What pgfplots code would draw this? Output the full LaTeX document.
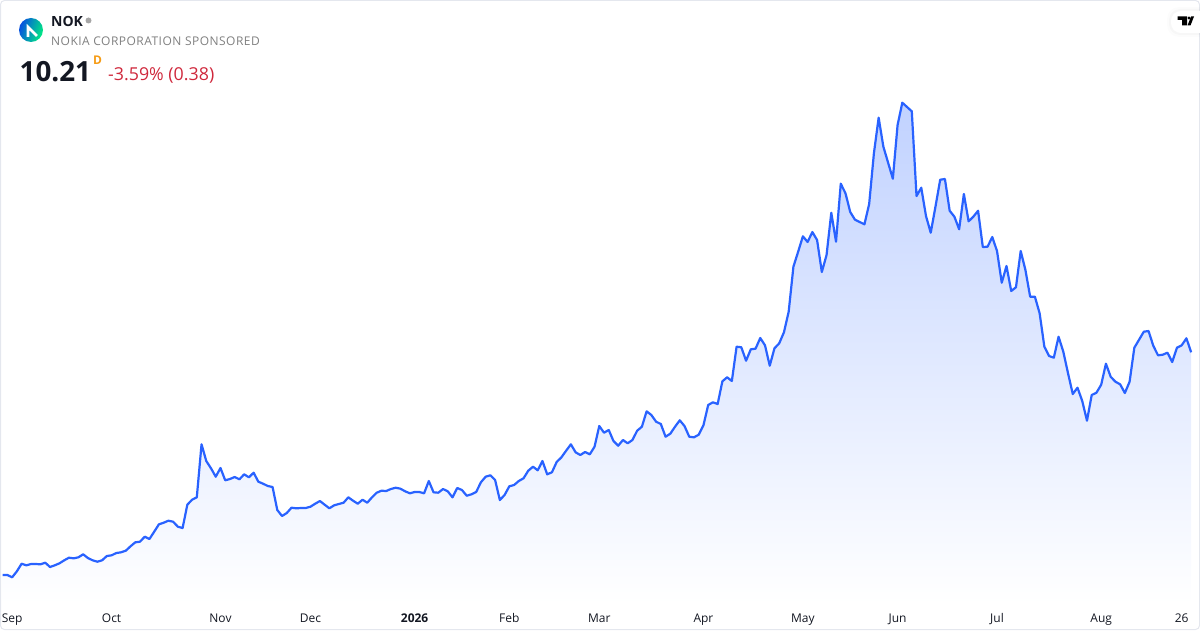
\documentclass[border=0pt]{standalone}
\usepackage{pgfplots}
\usepackage{pgfplotstable}
\usepackage{fontspec}
\setmainfont{Open Sans}
\pgfplotsset{compat=1.18}
\definecolor{tvblue}{RGB}{41,98,255}
\definecolor{topfill}{RGB}{193,210,255}
\definecolor{framec}{RGB}{228,231,238}
\definecolor{ticktxt}{RGB}{19,23,34}
\definecolor{logoa}{RGB}{8,80,225}
\definecolor{logob}{RGB}{0,235,130}
\definecolor{ordot}{RGB}{245,155,20}
\pgfplotstableread{
py
575 
575 
577.3 
571.3 
563.7 
565.3 
564 
564 
564.3 
562.7
567 
565.3 
563.3 
560.3 
557.7 
558.3 
557.3 
554.3 
558 
560.3
561.7 
560.3 
556 
555.3 
553 
552.3 
550.7 
546.3 
542.3 
541.7
536.7 
539 
531.7 
524.3 
522.7 
520.7 
521.7 
526.7 
528 
504.7
499.7 
497.3 
444.3 
461 
468.3 
476.7 
468 
480.3 
479 
477
479.3 
474.3 
477.3 
472.7 
481.7 
483.7 
486 
487 
510 
516
513 
507.7 
508.3
508 
508 
506.7 
503.7 
501 
504.7 
508.3 
505.3 
504 
502.7 
497.3 
500.7 
503.7 
499.7 
502.7 
497.3 
492.7 
490.7 
491 
489 
487.7 
488.7 
491.3 
493.3 
492 
492 
493.3 
481 
492.3 
492.7 
489 
491.3 
497.3 
488 
490 
495.7 
494.3 
492 
482.3 
476.7 
475.3 
480 
500 
495 
486.3 
485 
481 
478.3 
470.7 
466.7 
470.3 
461 
474.3 
472.3 
462 
457.3 
450.7 
444.3 
452.3 
455 
452 
454.3 
446.7 
426
432.7 
430 
441 
445.7 
440 
443.3 
440 
430.7 
426.7 
411.3 
415 
421.7 
424 
436.7 
433.7 
426.7 
420.3 
426 
436.7 
437.3 
434.7 
425.3 
405 
402.3 
404 
381.3 
377.3 
381 
346.7 
347.3 
360.7 
349.3 
348.7 
338 
345.3 
365.7 
348.3 
343.3 
332.3 
311.7 
266.7 
251.7 
236.3 
242 
232 
240 
272 
255 
212.7 
241.7
183.7 
193.3 
212 
219.7 
222 
224.3 
204 
153.3 
117.7 
146.7 
162.7 
178.7 
125 
102.7 
107 
111.3 
196 
187.7 
216 
232.7 
206.7 
179.7 
179 
210.7 
216.7 
229.3 
194 
221.3 
216.7 
210.7 
247 
246.7 
237 
251 
282.7 
266 
291 
287.3
251 
270 
296.7 
296.7 
313.3 
346.7 
356 
357.7 
336.7 
351.7 
373.3 
394 
387.7 
401 
420.7 
395 
392.7 
384.7 
363.7 
376.7 
381.7 
384.3 
393 
381.7 
347.7 
339.7 
331.7 
331 
345.7 
355.3 
354.7 
352.7 
362 
347.7 
345.3 
338.3 
352.3
}\nokdata
\begin{document}
\begin{tikzpicture}[x=1pt,y=1pt]
\useasboundingbox (0,-26) rectangle (1200,604);
\begin{axis}[
  at={(0,0)},anchor=south west,
  scale only axis,width=1200pt,height=604pt,
  xmin=-0.564,xmax=252.87,ymin=0,ymax=604,
  y dir=reverse,
  axis line style={draw=none},
  tick style={draw=none},
  ytick=\empty,
  xtick={2,23,46,65,87,107,126,148,169,189,210,232,249},
  xticklabels={Sep,Oct,Nov,Dec,\textbf{2026},Feb,Mar,Apr,May,Jun,Jul,Aug,26},
  xticklabel style={font=\fontsize{12}{14}\selectfont,text=ticktxt,anchor=base,yshift=-18pt},
  clip=false,
]
\addplot[draw=none,shade,top color=topfill,bottom color=white,forget plot]
  table[x expr=\coordindex,y=py] {\nokdata}
  -- (axis cs:251,604) -- (axis cs:0,604) -- cycle;
\addplot[tvblue,line width=2.2pt,line join=round,no marks]
  table[x expr=\coordindex,y=py] {\nokdata};
\end{axis}
% frame
\draw[framec,line width=1pt,rounded corners=4pt] (0.5,-25.5) rectangle (1199.5,603.5);
% logo
\shade[left color=logoa,right color=logob,shading angle=70] (31,574) circle (12);
\draw[white,line width=2.6pt,line join=miter] (28,567) -- (28,577) -- (37,568);
% header
\node[anchor=base west,inner sep=0,font=\fontsize{14}{16}\bfseries\selectfont,text=ticktxt] at (51,577.7) {NOK};
\fill[gray!70] (88.5,583.5) circle (3);
\node[anchor=base west,inner sep=0,font=\fontsize{12}{14}\selectfont\addfontfeature{LetterSpace=4},text=gray] at (51,558.7) {NOKIA CORPORATION SPONSORED};
\node[anchor=base west,inner sep=0,font=\fontsize{27.8}{30}\bfseries\selectfont,text=ticktxt] at (19.5,522.5) {10.21};
\node[anchor=base west,inner sep=0,font=\fontsize{12}{14}\bfseries\selectfont,text=ordot] at (93,539) {D};
\node[anchor=base west,inner sep=0,font=\fontsize{17.8}{20}\selectfont,text={rgb,255:red,207;green,40;blue,60}] at (108,523) {-3.59\% (0.38)};
% TV tab
\begin{scope}
\clip (1150,560) rectangle (1200,604);
\fill[black,opacity=0.012,rounded corners=12pt] (1167,567) rectangle (1212,597);
\fill[black,opacity=0.02,rounded corners=11pt] (1169,569) rectangle (1212,595);
\fill[white,rounded corners=10pt] (1171,571) rectangle (1212,593);
\end{scope}
\fill[black] (1177.5,587.5) -- (1187,587.5) -- (1187,578.5) -- (1182,578.5) -- (1182,584) -- (1177.5,584) -- cycle;
\fill[black] (1189,586) circle (1.7);
\fill[black] (1191,587.5) -- (1194,587.5) -- (1190.5,578.5) -- (1187.5,578.5) -- cycle;
\end{tikzpicture}
\end{document}
